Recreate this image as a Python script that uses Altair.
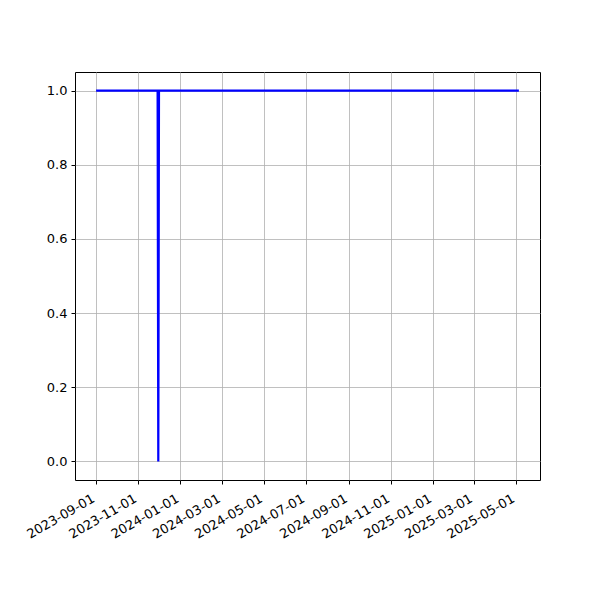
import altair as alt
import pandas as pd

dates = ["2023-09-01", "2023-11-29", "2023-11-30", "2023-12-01", "2025-05-05"]
values = [1, 1, 0, 1, 1]

tick_dates = [(2023, 9), (2023, 11), (2024, 1), (2024, 3), (2024, 5), (2024, 7),
              (2024, 9), (2024, 11), (2025, 1), (2025, 3), (2025, 5)]
y_ticks = [0.0, 0.2, 0.4, 0.6, 0.8, 1.0]

df = pd.DataFrame({"date": dates, "value": values})

font = "DejaVu Sans"

chart = alt.Chart(df).mark_line(color="blue", strokeWidth=2.2).encode(
    x=alt.X("date:T",
            scale=alt.Scale(type="utc", nice=False,
                            domain=[alt.DateTime(year=2023, month=8, date=1, hours=10, utc=True),
                                    alt.DateTime(year=2025, month=6, date=4, hours=14, utc=True)]),
            axis=alt.Axis(values=[alt.DateTime(year=y, month=m, date=1, utc=True) for y, m in tick_dates],
                          format="%Y-%m-%d", labelAngle=-30, labelAlign="right",
                          labelBaseline="top", title=None, grid=True, labelOverlap=False,
                          gridColor="#b0b0b0", gridWidth=0.8, domain=False,
                          tickColor="black", tickSize=4, labelColor="black",
                          labelFont=font, labelFontSize=13, labelPadding=8, labelOffset=-6)),
    y=alt.Y("value:Q",
            scale=alt.Scale(domain=[-0.05, 1.05], nice=False, zero=False),
            axis=alt.Axis(values=y_ticks, format=".1f", title=None, grid=True,
                          gridColor="#b0b0b0", gridWidth=0.8, domain=False,
                          tickColor="black", tickSize=4, labelColor="black",
                          labelFont=font, labelFontSize=13, labelPadding=4)),
).properties(
    width=465, height=408,
    autosize=alt.AutoSizeParams(type="none"),
    padding={"left": 67, "top": 64, "right": 50, "bottom": 100},
).configure_view(stroke="black", strokeWidth=1)

chart.save("out.html", embed_options={"renderer": "svg", "actions": False})
